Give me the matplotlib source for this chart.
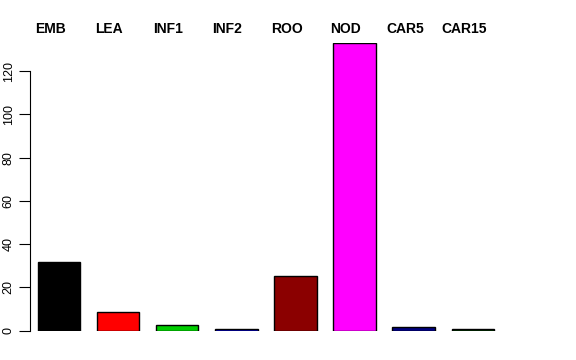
import matplotlib
matplotlib.use("Agg")
import matplotlib.pyplot as plt

plt.rcParams['font.family'] = ['Liberation Sans', 'DejaVu Sans']

labels = ["EMB", "LEA", "INF1", "INF2", "ROO", "NOD", "CAR5", "CAR15"]
values = [31.5, 8.4, 2.4, 0.9, 25.2, 133.0, 1.8, 0.5]
colors = ["#000000", "#FF0000", "#00CD00", "#0000CD", "#8B0000", "#FF00FF", "#000080", "#003300"]
yticks = [0, 20, 40, 60, 80, 100, 120]

fig = plt.figure(figsize=(5.76, 3.6), dpi=100)
ax = fig.add_axes([30 / 576, 29.5 / 360, 470 / 576, 287.5 / 360])

x = list(range(len(labels)))
ax.bar(x, values, width=0.72, color=colors, edgecolor="black", linewidth=1.0)

ax.set_xlim(-0.49, 7.46)
ax.set_ylim(0, 133)

for s in ["top", "right", "bottom"]:
    ax.spines[s].set_visible(False)
ax.spines["left"].set_bounds(0, 120)
ax.spines["left"].set_linewidth(0.8)
ax.set_xticks([])
ax.set_yticks(yticks)
ax.set_yticklabels([str(t) for t in yticks], rotation=90, va="center", fontsize=9)
ax.tick_params(axis="y", length=8, width=0.8, pad=3)

for xi, lab in zip(x, labels):
    ax.text(xi - 0.15, 139.4, lab, ha="center", va="center",
            fontsize=10, fontweight="bold", clip_on=False)

fig.savefig("out.png", dpi=100)
